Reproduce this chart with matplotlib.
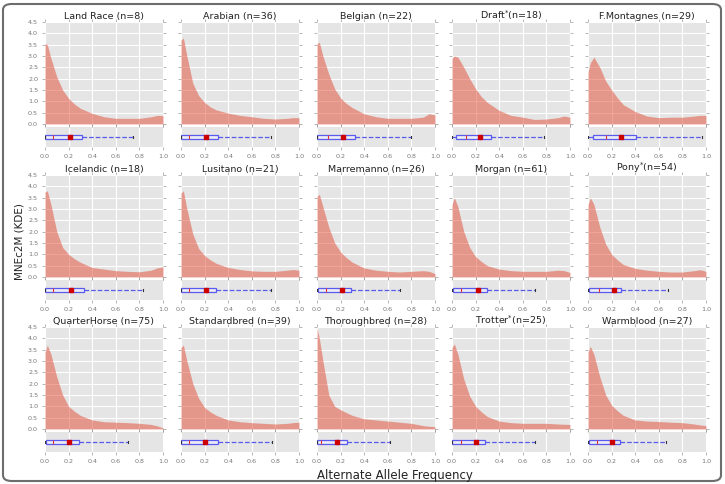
import matplotlib.pyplot as plt
from matplotlib.patches import FancyBboxPatch

# breeds, sample sizes, and which ones carry an asterisk
breeds = ['Land Race', 'Arabian', 'Belgian', 'Draft', 'F.Montagnes',
          'Icelandic', 'Lusitano', 'Marremanno', 'Morgan', 'Pony',
          'QuarterHorse', 'Standardbred', 'Thoroughbred', 'Trotter', 'Warmblood']
sizes = [8, 36, 22, 18, 29, 18, 21, 26, 61, 54, 75, 39, 28, 25, 27]
starred = ['Draft', 'Pony', 'Trotter']

# KDE curves
freq = [0, 0.02, 0.05, 0.1, 0.15, 0.2, 0.25, 0.3, 0.4, 0.5, 0.6, 0.7, 0.8, 0.9, 0.95, 1.0]
kde_landrace = [3.55, 3.5, 2.9, 2.08, 1.5, 1.13, 0.88, 0.69, 0.47, 0.32, 0.25, 0.25, 0.25, 0.32, 0.38, 0.37]
kde_arabian = [3.7, 3.8, 3.0, 1.8, 1.25, 0.95, 0.75, 0.62, 0.48, 0.38, 0.32, 0.25, 0.22, 0.25, 0.28, 0.28]
kde_belgian = [3.55, 3.6, 3.0, 2.2, 1.55, 1.15, 0.9, 0.72, 0.45, 0.32, 0.25, 0.25, 0.25, 0.3, 0.45, 0.4]
kde_draft = [2.9, 3.0, 2.95, 2.5, 2.0, 1.55, 1.2, 0.95, 0.6, 0.38, 0.3, 0.2, 0.22, 0.28, 0.35, 0.3]
kde_montagnes = [2.3, 2.7, 2.95, 2.5, 1.9, 1.5, 1.15, 0.85, 0.55, 0.35, 0.28, 0.3, 0.3, 0.35, 0.38, 0.38]
kde_icelandic = [3.75, 3.8, 3.2, 2.0, 1.3, 1.0, 0.8, 0.65, 0.42, 0.35, 0.28, 0.25, 0.23, 0.3, 0.4, 0.45]
kde_lusitano = [3.7, 3.8, 3.0, 1.9, 1.25, 0.95, 0.75, 0.6, 0.42, 0.33, 0.27, 0.25, 0.25, 0.3, 0.33, 0.3]
kde_marremanno = [3.55, 3.65, 3.1, 2.2, 1.5, 1.1, 0.85, 0.65, 0.4, 0.3, 0.25, 0.22, 0.25, 0.28, 0.25, 0.15]
kde_morgan = [3.2, 3.5, 3.1, 2.0, 1.3, 0.9, 0.68, 0.5, 0.35, 0.28, 0.25, 0.25, 0.25, 0.3, 0.28, 0.2]
kde_pony = [3.2, 3.5, 3.2, 2.2, 1.45, 1.0, 0.75, 0.55, 0.38, 0.3, 0.25, 0.22, 0.22, 0.28, 0.32, 0.25]
kde_quarterhorse = [3.4, 3.7, 3.3, 2.3, 1.5, 1.0, 0.78, 0.6, 0.4, 0.32, 0.3, 0.28, 0.25, 0.2, 0.14, 0.05]
kde_standardbred = [3.6, 3.7, 3.0, 2.0, 1.35, 0.95, 0.75, 0.6, 0.4, 0.32, 0.28, 0.25, 0.22, 0.25, 0.28, 0.3]
kde_thoroughbred = [4.45, 4.0, 3.0, 1.5, 1.0, 0.85, 0.72, 0.6, 0.45, 0.4, 0.35, 0.3, 0.25, 0.15, 0.12, 0.1]
kde_trotter = [3.6, 3.75, 3.3, 2.2, 1.45, 1.0, 0.75, 0.55, 0.35, 0.28, 0.25, 0.25, 0.25, 0.22, 0.21, 0.2]
kde_warmblood = [3.4, 3.65, 3.3, 2.3, 1.5, 1.05, 0.8, 0.6, 0.4, 0.35, 0.33, 0.3, 0.28, 0.22, 0.18, 0.15]
kdes = [kde_landrace, kde_arabian, kde_belgian, kde_draft, kde_montagnes,
        kde_icelandic, kde_lusitano, kde_marremanno, kde_morgan, kde_pony,
        kde_quarterhorse, kde_standardbred, kde_thoroughbred, kde_trotter, kde_warmblood]

# box plot summary per breed
box_lo = [0] * 15
box_q1 = [0, 0, 0, 0.03, 0.04, 0, 0, 0.01, 0.01, 0.01, 0.01, 0, 0, 0, 0.01]
box_med = [0.07, 0.07, 0.09, 0.12, 0.15, 0.07, 0.07, 0.08, 0.08, 0.09, 0.07, 0.07, 0.03, 0.08, 0.08]
box_mean = [0.21, 0.21, 0.22, 0.24, 0.28, 0.22, 0.21, 0.21, 0.22, 0.22, 0.2, 0.2, 0.17, 0.2, 0.2]
box_q3 = [0.31, 0.31, 0.32, 0.33, 0.41, 0.33, 0.30, 0.29, 0.30, 0.28, 0.29, 0.31, 0.25, 0.28, 0.27]
box_hi = [0.75, 0.76, 0.8, 0.78, 0.97, 0.83, 0.76, 0.7, 0.7, 0.68, 0.7, 0.77, 0.62, 0.7, 0.66]

xticks = [0.0, 0.2, 0.4, 0.6, 0.8, 1.0]
yticks = [0.0, 0.5, 1.0, 1.5, 2.0, 2.5, 3.0, 3.5, 4.0, 4.5]

W, H = 725, 484
fig = plt.figure(figsize=(W / 100, H / 100), dpi=100)

lefts = [45, 181, 317, 452, 588]
tops = [22, 175, 327]
aw, kh, bh, gap = 118, 102, 20, 3
bg = '#e5e5e5'
tick_col = '#777777'
blue = '#5a5aee'


def style(ax):
    ax.set_facecolor(bg)
    for s in ax.spines.values():
        s.set_visible(False)
    ax.grid(True, color='white', lw=0.8)
    ax.set_axisbelow(True)
    ax.tick_params(direction='out', length=2, width=0.5, color='#999999',
                   labelsize=4.6, labelcolor=tick_col, pad=3,
                   top=True, right=True)


for i, name in enumerate(breeds):
    r, c = divmod(i, 5)
    x0 = lefts[c] / W
    y_top = tops[r]
    ax = fig.add_axes([x0, 1 - (y_top + kh) / H, aw / W, kh / H])
    style(ax)
    ax.fill_between(freq, kdes[i], 0, color='#E24A33', alpha=0.5, lw=0)
    ax.set_xlim(0, 1)
    ax.set_ylim(0, 4.5)
    ax.set_xticks(xticks)
    ax.set_yticks(yticks)
    ax.set_xticklabels([])
    if c == 0:
        ax.set_yticklabels([f'{t:.1f}' for t in yticks])
    else:
        ax.set_yticklabels([])
    star = '$^{*}$' if name in starred else ' '
    ax.set_title(f'{name}{star}(n={sizes[i]})', fontsize=6.8, pad=2.5,
                 color='#222222')

    bx = fig.add_axes([x0, 1 - (y_top + kh + gap + bh) / H, aw / W, bh / H])
    style(bx)
    stats = [dict(whislo=box_lo[i], q1=box_q1[i], med=box_med[i],
                  mean=box_mean[i], q3=box_q3[i], whishi=box_hi[i], fliers=[])]
    bx.bxp(stats, vert=False, widths=0.24, showmeans=True, positions=[1],
           patch_artist=True,
           boxprops=dict(edgecolor=blue, facecolor='#ececf6', lw=0.9),
           whiskerprops=dict(color=blue, lw=0.9, ls='--'),
           capprops=dict(color='#333333', lw=0.8),
           medianprops=dict(color='#e03030', lw=0.8),
           meanprops=dict(marker='s', markerfacecolor='#cc0000',
                          markeredgecolor='#cc0000', markersize=3.5))
    bx.set_xlim(0, 1)
    bx.set_ylim(0.5, 1.5)
    bx.set_xticks(xticks)
    bx.set_xticklabels([f'{t:.1f}' for t in xticks])
    bx.set_yticks([])
    bx.tick_params(axis='y', left=False, right=False)

fig.text(20 / W, 0.5, 'MNEc2M (KDE)', rotation=90, ha='center', va='center',
         fontsize=7.5, color='#222222')
fig.text(395 / W, 1 - 476 / H, 'Alternate Allele Frequency', ha='center',
         va='center', fontsize=8.5, color='#222222')

frame = FancyBboxPatch((3 / W, 3 / H), 718 / W, 477 / H,
                       boxstyle='round,pad=0,rounding_size=0.012',
                       transform=fig.transFigure, fill=False,
                       edgecolor='#6d6d6d', lw=1.5)
fig.patches.append(frame)

fig.savefig('out.png', dpi=100)
